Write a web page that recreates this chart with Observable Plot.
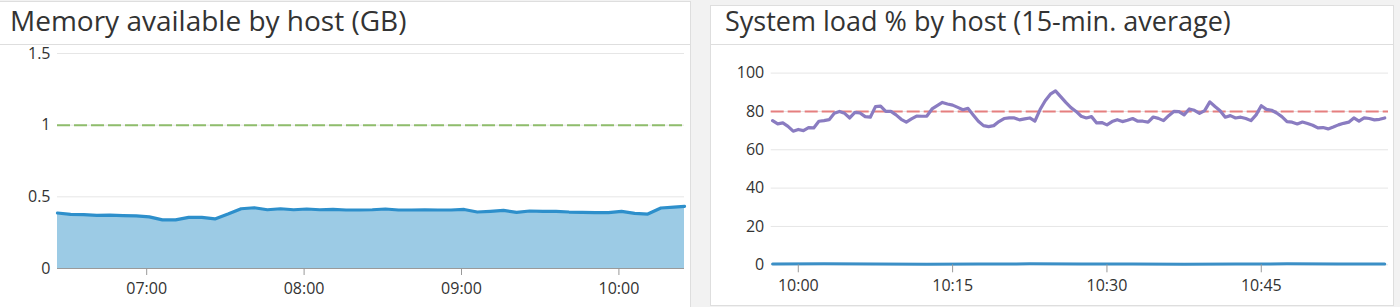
<!DOCTYPE html>
<html><head><meta charset="utf-8">
<script src="https://cdn.jsdelivr.net/npm/d3@7"></script>
<script src="https://cdn.jsdelivr.net/npm/@observablehq/plot@0.6"></script>
<style>
html,body{margin:0;padding:0;background:#f2f2f2;width:1400px;height:307px;overflow:hidden;font-family:"Open Sans",sans-serif;}
.panel{position:absolute;background:#fff;border:1px solid #dedede;box-sizing:border-box;}
.sep{position:absolute;height:1px;background:#dedede;}
.title{position:absolute;font-size:28px;line-height:36px;color:#333;white-space:nowrap;}
.chart{position:absolute;}
</style></head><body>
<div class="panel" style="left:-1px;top:1px;width:692px;height:340px;"></div>
<div class="sep" style="left:0;top:44px;width:690px;"></div>
<div class="title" style="left:10px;top:2px;">Memory available by host (GB)</div>
<div class="chart" id="c1" style="left:0;top:45px;"></div>

<div class="panel" style="left:710px;top:5px;width:684px;height:301px;"></div>
<div class="sep" style="left:711px;top:44px;width:682px;"></div>
<div class="title" style="left:725px;top:3px;font-size:27px;">System load % by host (15-min. average)</div>
<div class="chart" id="c2" style="left:711px;top:45px;"></div>
<script>
// ---- Memory available (GB) ----
const memTimes = ["06:26","06:31","06:36","06:41","06:46","06:51","06:56","07:01","07:06","07:11",
  "07:16","07:21","07:26","07:31","07:36","07:41","07:46","07:51","07:56","08:01",
  "08:06","08:11","08:16","08:21","08:26","08:31","08:36","08:41","08:46","08:51",
  "08:56","09:01","09:06","09:11","09:16","09:21","09:26","09:31","09:36","09:41",
  "09:46","09:51","09:56","10:01","10:06","10:11","10:16","10:21","10:25"];
const memValues = [0.387,0.378,0.376,0.371,0.373,0.369,0.367,0.360,0.339,0.339,
  0.357,0.357,0.346,0.380,0.417,0.424,0.410,0.417,0.410,0.415,
  0.410,0.412,0.408,0.408,0.410,0.415,0.408,0.408,0.410,0.408,
  0.408,0.412,0.394,0.399,0.405,0.392,0.401,0.399,0.399,0.394,
  0.392,0.390,0.390,0.399,0.385,0.380,0.422,0.428,0.433];
const memThreshold = 1;
const memYTicks = [0, 0.5, 1, 1.5];
const memXTicks = ["07:00","08:00","09:00","10:00"];
const memDomain = ["06:26","10:25"];

// ---- System load % ----
const loadStart = "09:57:30";
const loadStepSeconds = 30;
const loadValues = [75.2,73.5,74.0,72.2,69.7,70.6,70.0,71.6,71.4,74.9,
  75.2,75.7,79.0,80.0,79.0,76.6,79.5,79.2,77.3,77.0,
  82.5,82.8,80.0,80.0,78.2,75.9,74.4,76.1,77.6,77.5,
  77.6,81.3,83.0,84.7,83.9,83.3,82.1,80.9,81.6,78.2,
  74.9,72.6,72.1,72.6,74.7,76.3,76.6,76.6,75.6,76.1,
  76.6,74.9,81.0,85.6,89.0,90.7,87.7,84.7,82.0,80.0,
  77.5,76.6,77.3,74.0,74.2,73.0,74.7,75.7,74.7,75.4,
  76.3,74.9,74.9,74.4,77.1,76.4,75.2,77.8,80.0,79.9,
  78.2,81.3,80.6,79.0,80.4,85.0,82.6,80.4,77.0,77.8,
  76.6,77.0,76.3,75.2,78.2,83.0,81.1,80.6,79.2,77.3,
  74.7,74.4,73.5,74.5,73.7,72.8,71.4,71.6,70.9,71.9,
  73.0,73.8,74.4,76.6,74.9,76.6,76.3,75.6,75.9,76.6];
const idleTimes = ["09:57:30","10:02:30","10:07:30","10:12:30","10:17:30","10:22:30","10:27:30",
  "10:32:30","10:37:30","10:42:30","10:47:30","10:52:30","10:57:00"];
const idleValues = [0.4,0.5,0.4,0.3,0.4,0.5,0.4,0.4,0.3,0.4,0.5,0.4,0.4];
const loadThreshold = 80;
const loadYTicks = [0,20,40,60,80,100];
const loadXTicks = ["10:00","10:15","10:30","10:45"];
const loadDomain = ["09:57:22","10:57:22"];

function tp(s){ const [h,m,sec] = s.split(":").map(Number); return new Date(Date.UTC(2024,0,1,h,m,sec||0)); }
const fmt = d3.utcFormat("%H:%M");

const mem = memTimes.map((t,i)=>({t:tp(t), v:memValues[i]}));
const t0 = tp(loadStart);
const load = loadValues.map((v,i)=>({t:new Date(+t0 + i*loadStepSeconds*1000), v}));
const idle = idleTimes.map((t,i)=>({t:tp(t), v:idleValues[i]}));

const style = {fontFamily:"'Open Sans', sans-serif", fontSize:"16px", color:"#333", background:"transparent", overflow:"visible"};

const c1 = Plot.plot({
  width:690, height:262, marginLeft:57, marginRight:6, marginTop:8, marginBottom:39,
  style,
  x:{type:"utc", domain:memDomain.map(tp), label:null},
  y:{domain:[0,1.5], label:null},
  marks:[
    Plot.gridY(memYTicks, {stroke:"#e6e6e6", strokeOpacity:1}),
    Plot.areaY(mem, {x:"t", y:"v", fill:"#9ccbe5", fillOpacity:1}),
    Plot.lineY(mem, {x:"t", y:"v", stroke:"#2d8fcb", strokeWidth:3.2}),
    Plot.ruleY([memThreshold], {stroke:"#8fbd6c", strokeWidth:2, strokeDasharray:"13,4"}),
    Plot.ruleY([0], {stroke:"#9a9a9a"}),
    Plot.axisY(memYTicks, {tickSize:0, tickPadding:7, tickFormat:d=>String(d), fill:"#333", label:null}),
    Plot.axisX(memXTicks.map(tp), {tickSize:7, tickPadding:7.6, tickFormat:fmt, stroke:"#999", fill:"#333", label:null})
  ]
});
document.getElementById("c1").appendChild(c1);

const c2 = Plot.plot({
  width:682, height:259, marginLeft:59.7, marginRight:5, marginTop:27.6, marginBottom:39.7,
  style,
  x:{type:"utc", domain:loadDomain.map(tp), label:null},
  y:{domain:[0,100], label:null},
  marks:[
    Plot.gridY(loadYTicks, {stroke:"#e6e6e6", strokeOpacity:1}),
    Plot.ruleY([loadThreshold], {stroke:"#e57f7f", strokeWidth:2, strokeDasharray:"13,4"}),
    Plot.lineY(load, {x:"t", y:"v", stroke:"#8a7cc1", strokeWidth:3.2}),
    Plot.lineY(idle, {x:"t", y:"v", stroke:"#3b8fc6", strokeWidth:3}),
    Plot.axisY(loadYTicks, {tickSize:0, tickPadding:7, fill:"#333", label:null}),
    Plot.axisX(loadXTicks.map(tp), {tickSize:8, tickPadding:7, tickFormat:fmt, stroke:"#999", fill:"#333", label:null})
  ]
});
document.getElementById("c2").appendChild(c2);
</script>
</body></html>
